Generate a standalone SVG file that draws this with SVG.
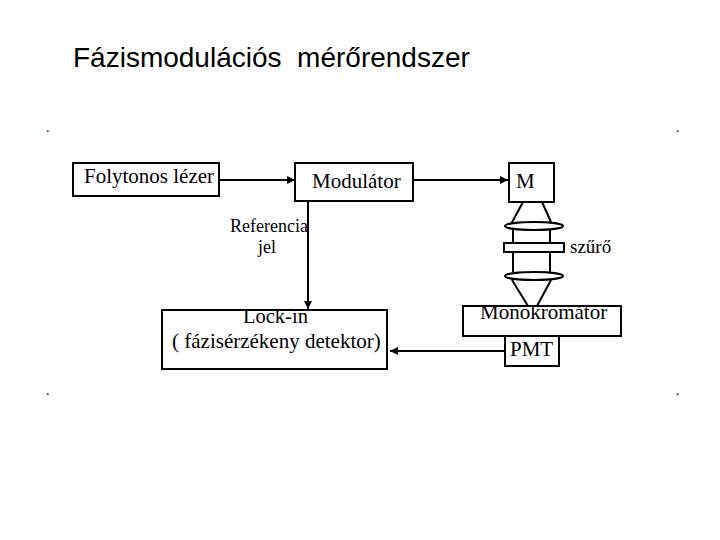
<svg xmlns="http://www.w3.org/2000/svg" width="720" height="540" viewBox="0 0 720 540">
<style>
text{font-family:"Liberation Serif","Times New Roman",serif;fill:#000}
.b{fill:#fff;stroke:#000;stroke-width:2}
.l{fill:none;stroke:#000;stroke-width:2}
.t{font-size:21px}
.s{font-size:18px}
</style>
<defs><marker id="a" markerUnits="userSpaceOnUse" markerWidth="9" markerHeight="8" refX="8" refY="4" orient="auto"><path d="M0 0L8 4L0 8z" fill="#000"/></marker></defs>
<rect width="720" height="540" fill="#fff"/>
<text x="73" y="67" style="font-family:'Liberation Sans',Arial,sans-serif;font-size:28px;white-space:pre" xml:space="preserve">Fázismodulációs  mérőrendszer</text>
<g id="dots" font-size="14"><text x="46" y="132">.</text><text x="676" y="132">.</text><text x="46" y="395">.</text><text x="676" y="395">.</text></g>
<g id="connectors">
<path class="l" d="M220 180H295" marker-end="url(#a)"/>
<path class="l" d="M414 180H508" marker-end="url(#a)"/>
<path class="l" d="M308 201V309" marker-end="url(#a)"/>
<path class="l" d="M505 351H390" marker-end="url(#a)"/>
<path class="l" d="M523 202L510 226M542 202L551 222M513 228V272M550 228V272M512 280L528 306M551 280L537 306"/>
</g>
<g id="laser"><rect class="b" x="73" y="163" width="146" height="33"/><text class="t" x="84" y="183">Folytonos lézer</text></g>
<g id="modulator"><rect class="b" x="295" y="163" width="118" height="38"/><text class="t" x="312" y="188">Modulátor</text></g>
<g id="m"><rect class="b" x="509" y="163" width="45" height="39"/><text class="t" x="516" y="188">M</text></g>
<g id="reference"><text class="s" x="230" y="232">Referencia</text><text class="s" x="258" y="253">jel</text></g>
<g id="lens1"><ellipse class="b" cx="534" cy="226" rx="29" ry="4"/></g>
<g id="filter"><rect class="b" x="504" y="243" width="60" height="9"/><text x="570" y="253" font-size="19">szűrő</text></g>
<g id="lens2"><ellipse class="b" cx="534" cy="276" rx="29" ry="4"/></g>
<g id="lockin"><rect class="b" x="162" y="310" width="225" height="59"/><text x="243" y="323" font-size="20.5">Lock-in</text><text class="t" x="172" y="348">( fázisérzékeny detektor)</text></g>
<g id="mono"><rect class="b" x="463" y="306" width="158" height="30"/><text class="t" x="480" y="319">Monokromátor</text></g>
<g id="pmt"><rect class="b" x="505" y="336" width="54" height="30"/><text class="t" x="510" y="356">PMT</text></g>
</svg>
